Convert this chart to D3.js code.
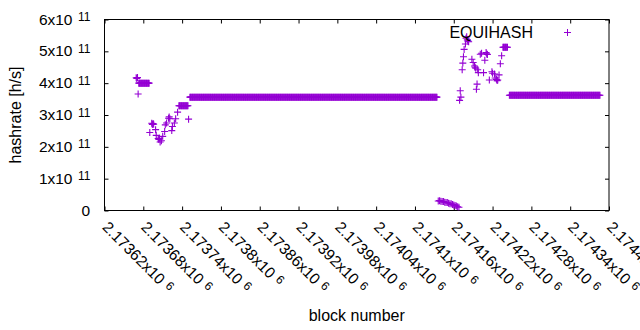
<!DOCTYPE html>
<meta charset="utf-8">
<body style="margin:0">
<script src="https://d3js.org/d3.v7.min.js"></script>
<script>

// flat stretches: every block from start to end has the same hashrate
var runStart = [2173673, 2173735, 2173752, 2174236, 2174246];
var runEnd   = [2173689, 2173749, 2174134, 2174243, 2174386];
var runRate  = [4.00e11, 3.29e11, 3.56e11, 5.13e11, 3.62e11];

// the scattered blocks in between
var blocks = [2173669, 2173670, 2173671, 2173672, 2173690, 2173693, 2173694, 2173695, 2173696,
  2173699, 2173700, 2173703, 2173704, 2173705, 2173706, 2173708, 2173710, 2173713, 2173714,
  2173716, 2173719, 2173720, 2173721, 2173724, 2173725, 2173728, 2173730, 2173733, 2173750,
  2174136, 2174138, 2174140, 2174142, 2174144, 2174146, 2174148, 2174150, 2174152, 2174154,
  2174156, 2174158, 2174160, 2174162, 2174164, 2174166, 2174168,
  2174169, 2174170, 2174171, 2174173, 2174174, 2174175, 2174176, 2174178, 2174179, 2174180,
  2174181, 2174182, 2174183, 2174188, 2174190, 2174192, 2174193, 2174194, 2174195, 2174196,
  2174197, 2174198, 2174201, 2174203, 2174206, 2174208, 2174210, 2174211, 2174212, 2174215,
  2174219, 2174220, 2174223, 2174224, 2174226, 2174227, 2174228, 2174230, 2174232, 2174234];
var rates = [4.17e11, 4.15e11, 4.18e11, 3.66e11, 2.45e11, 2.74e11, 2.70e11, 2.73e11, 2.71e11,
  2.54e11, 2.36e11, 2.26e11, 2.23e11, 2.27e11, 2.15e11, 2.19e11, 2.33e11, 2.48e11, 2.69e11,
  2.75e11, 2.90e11, 2.94e11, 2.88e11, 2.51e11, 2.64e11, 2.75e11, 2.88e11, 3.09e11, 2.87e11,
  0.30e11, 0.31e11, 0.29e11, 0.28e11, 0.28e11, 0.26e11, 0.25e11, 0.25e11, 0.23e11, 0.21e11,
  0.21e11, 0.19e11, 0.17e11, 0.16e11, 0.14e11, 0.12e11, 0.10e11,
  3.46e11, 3.76e11, 3.56e11, 4.42e11, 4.63e11, 4.83e11, 5.06e11, 5.23e11, 5.41e11, 5.46e11,
  5.36e11, 5.32e11, 5.30e11, 4.75e11, 4.65e11, 4.54e11, 4.50e11, 4.47e11, 3.81e11, 3.97e11,
  4.42e11, 4.33e11, 4.91e11, 4.94e11, 4.33e11, 4.72e11, 4.96e11, 4.92e11, 4.90e11, 4.10e11,
  4.36e11, 4.31e11, 4.29e11, 4.16e11, 4.12e11, 4.08e11, 4.10e11, 4.26e11, 4.61e11, 4.86e11];

var xTickValues = [2173620, 2173680, 2173740, 2173800, 2173860, 2173920, 2173980,
  2174040, 2174100, 2174160, 2174220, 2174280, 2174340, 2174400];
var xTickMant = ["2.17362", "2.17368", "2.17374", "2.1738", "2.17386", "2.17392", "2.17398",
  "2.17404", "2.1741", "2.17416", "2.17422", "2.17428", "2.17434", "2.1744"];
var yTickValues = [0, 1e11, 2e11, 3e11, 4e11, 5e11, 6e11];
var yTickMant = ["0", "1", "2", "3", "4", "5", "6"];

var seriesName = "EQUIHASH";
var color = "#9400d3";
var font = "'Liberation Sans', Arial, sans-serif";

var margin = {top: 19.5, right: 31, bottom: 119.5, left: 104.5},
    width = 640 - margin.left - margin.right,
    height = 330 - margin.top - margin.bottom;

var points = [];
runStart.forEach(function(s, i) {
  for (var b = s; b <= runEnd[i]; b++) points.push({block: b, rate: runRate[i]});
});
blocks.forEach(function(b, i) { points.push({block: b, rate: rates[i]}); });

var x = d3.scaleLinear().domain([2173620, 2174400]).range([0, width]);
var y = d3.scaleLinear().domain([0, 6e11]).range([height, 0]);

var svg = d3.select("body").append("svg")
    .attr("width", 640)
    .attr("height", 330)
    .style("font-family", font)
  .append("g")
    .attr("transform", "translate(" + margin.left + "," + margin.top + ")");

// ticks on all four sides, pointing inward
function ticks(axis, tx, ty) {
  var g = svg.append("g")
      .attr("transform", "translate(" + tx + "," + ty + ")")
      .call(axis.tickSizeInner(-4).tickSizeOuter(0).tickFormat(""));
  g.select(".domain").remove();
  g.selectAll("line").attr("stroke", "#000");
}
ticks(d3.axisBottom(x).tickValues(xTickValues), 0, height);
ticks(d3.axisTop(x).tickValues(xTickValues), 0, 0);
ticks(d3.axisLeft(y).tickValues(yTickValues), 0, 0);
ticks(d3.axisRight(y).tickValues(yTickValues), width, 0);

svg.append("rect")
    .attr("width", width)
    .attr("height", height)
    .attr("fill", "none")
    .attr("stroke", "#000");

// y tick labels  "Nx10 11"
yTickValues.forEach(function(v, i) {
  if (v === 0) {
    svg.append("text")
        .attr("x", -14.5)
        .attr("y", y(v))
        .attr("dy", "0.33em")
        .attr("text-anchor", "end")
        .style("font-size", "15.5px")
        .text("0");
    return;
  }
  svg.append("text")
      .attr("x", -32)
      .attr("y", y(v))
      .attr("dy", "0.33em")
      .attr("text-anchor", "end")
      .style("font-size", "15.5px")
      .text(yTickMant[i] + "x10");
  svg.append("text")
      .attr("x", -26.5)
      .attr("y", y(v) + 1.5)
      .style("font-size", "12px")
      .text("11");
});

// x tick labels, rotated
xTickValues.forEach(function(v, i) {
  var g = svg.append("g")
      .attr("transform", "translate(" + (x(v) + 0.5) + "," + (height + 14) + ") rotate(45)");
  var t = g.append("text")
      .attr("dy", "0.33em")
      .style("font-size", "15.5px")
      .text(xTickMant[i] + "x10");
  var w = t.node().getComputedTextLength();
  g.append("text")
      .attr("x", w + 5)
      .attr("y", 1.5)
      .style("font-size", "12px")
      .text("6");
});

svg.append("text")
    .attr("text-anchor", "middle")
    .attr("x", width / 2)
    .attr("y", 301)
    .style("font-size", "16px")
    .text("block number");

svg.append("text")
    .attr("text-anchor", "middle")
    .attr("transform", "translate(" + (21 - margin.left) + "," + (height / 2) + ") rotate(-90)")
    .style("font-size", "16px")
    .text("hashrate [h/s]");

svg.append("clipPath").attr("id", "clip")
  .append("rect").attr("width", width).attr("height", height);

var plus = "M-3.5,0H3.5M0,-3.5V3.5";

svg.append("g")
    .attr("clip-path", "url(#clip)")
  .selectAll(".dot")
    .data(points)
  .enter().append("path")
    .attr("class", "dot")
    .attr("d", plus)
    .attr("transform", function(d) { return "translate(" + x(d.block) + "," + y(d.rate) + ")"; })
    .attr("fill", "none")
    .attr("stroke", color)
    .attr("stroke-width", 1.1);

// key
svg.append("text")
    .attr("x", 533 - margin.left)
    .attr("y", 37.5 - margin.top)
    .attr("text-anchor", "end")
    .style("font-size", "16px")
    .text(seriesName);
svg.append("path")
    .attr("d", plus)
    .attr("transform", "translate(" + (567.5 - margin.left) + "," + (32.5 - margin.top) + ")")
    .attr("fill", "none")
    .attr("stroke", color);

</script>
